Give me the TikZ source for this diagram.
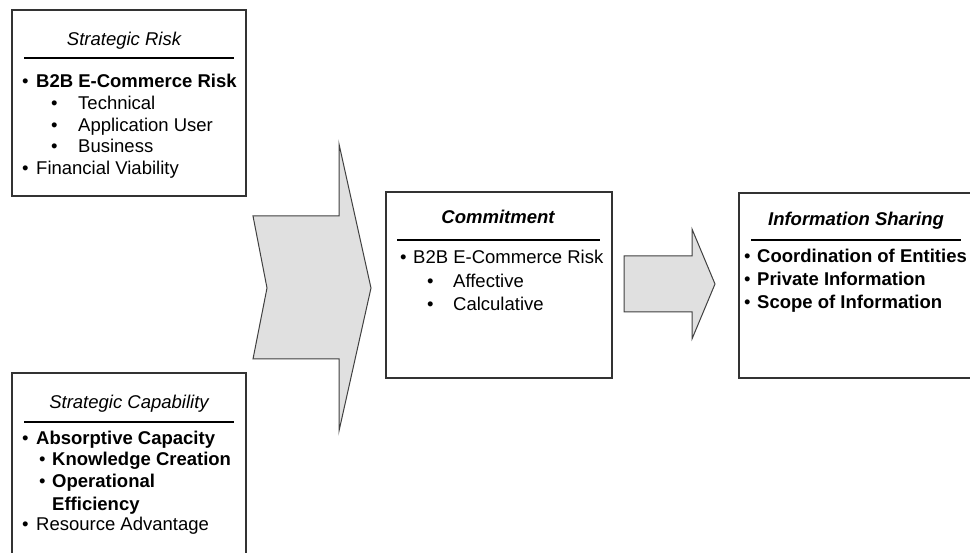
\documentclass[tikz,border=0pt]{standalone}
\usepackage{fontspec}
\setmainfont{Liberation Sans}
\begin{document}
\begin{tikzpicture}[x=1pt,y=-1pt,
  box/.style={draw=black!80,line width=1.3pt,fill=white},
  rule/.style={draw=black,line width=1.6pt},
  blockarrow/.style={draw=black!75,line width=1pt,fill=black!12,line join=miter},
  txt/.style={anchor=base west,inner sep=0pt,font=\fontsize{18.5}{22}\selectfont},
  ttl/.style={anchor=base,inner sep=0pt,font=\fontsize{18.5}{22}\selectfont\itshape},
]
\useasboundingbox (0,0) rectangle (970,553);
% boxes
\path[box] (12,10) rectangle (246,196);
\path[box] (12,373) rectangle (246,570);
\path[box] (386,192) rectangle (612,378);
\path[box] (739,193) rectangle (985,378);
% chevron block arrow
\path[blockarrow] (253,216) -- (339,216) -- (339,144) -- (371,288) -- (339,431) -- (339,359) -- (253,359) -- (267,288) -- cycle;
% small block arrow
\path[blockarrow] (624,256) -- (692,256) -- (692,229) -- (715,284) -- (692,339) -- (692,312) -- (624,312) -- cycle;

% Strategic Risk
\node[ttl] (rt) at (124,46) {Strategic Risk};
\draw[rule] (24,58) -- (234,58);
\node[txt] (r1b) at (22,88) {•};
\node[txt] (r1) at (36,88) {\bfseries B2B E-Commerce Risk};
\node[txt] (r2b) at (51,110) {•};
\node[txt] (r2) at (78,110) {Technical};
\node[txt] (r3b) at (51,132) {•};
\node[txt] (r3) at (78,132) {Application User};
\node[txt] (r4b) at (51,153) {•};
\node[txt] (r4) at (78,153) {Business};
\node[txt] (r5b) at (22,175) {•};
\node[txt] (r5) at (36,175) {Financial Viability};

% Strategic Capability
\node[ttl] (ct) at (129,409) {Strategic Capability};
\draw[rule] (24,422) -- (234,422);
\node[txt] (c1b) at (22,445) {•};
\node[txt] (c1) at (36,445) {\bfseries Absorptive Capacity};
\node[txt] (c2b) at (39,465) {•};
\node[txt] (c2) at (52,465) {\bfseries Knowledge Creation};
\node[txt] (c3b) at (39,487) {•};
\node[txt] (c3) at (52,487) {\bfseries Operational};
\node[txt] (c4) at (52,510) {\bfseries Efficiency};
\node[txt] (c5b) at (22,530) {•};
\node[txt] (c5) at (36,530) {Resource Advantage};

% Commitment
\node[ttl] (mt) at (498,224) {\bfseries Commitment};
\draw[rule] (397,240) -- (600,240);
\node[txt] (m1b) at (400,264) {•};
\node[txt] (m1) at (413,264) {B2B E-Commerce Risk};
\node[txt] (m2b) at (427,288) {•};
\node[txt] (m2) at (453,288) {Affective};
\node[txt] (m3b) at (427,311) {•};
\node[txt] (m3) at (453,311) {Calculative};

% Information Sharing
\node[ttl] (it) at (856,226) {\bfseries Information Sharing};
\draw[rule] (751,240) -- (961,240);
\node[txt] (i1b) at (744,263) {•};
\node[txt] (i1) at (757,263) {\bfseries Coordination of Entities};
\node[txt] (i2b) at (744,286) {•};
\node[txt] (i2) at (757,286) {\bfseries Private Information};
\node[txt] (i3b) at (744,309) {•};
\node[txt] (i3) at (757,309) {\bfseries Scope of Information};
\end{tikzpicture}
\end{document}
